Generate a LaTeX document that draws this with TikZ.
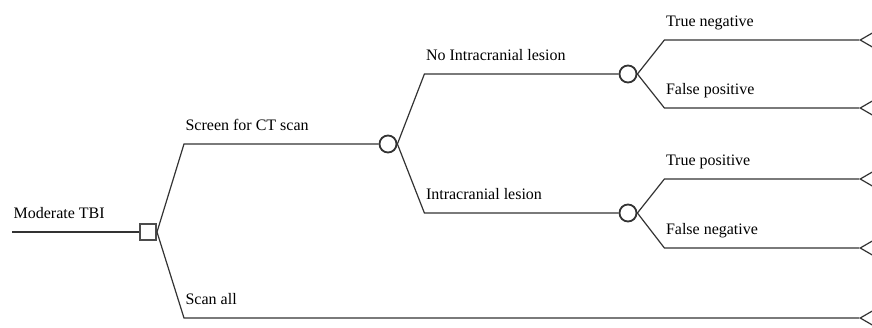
\documentclass[tikz,border=0pt]{standalone}
\usepackage{fontspec}
\setmainfont{Liberation Serif}
\usetikzlibrary{shapes.geometric}

\tikzset{
  edge/.style={draw=black!80, line width=1.2pt},
  lbl/.style={anchor=base west, inner sep=0pt, xshift=1pt, yshift=14pt,
    font=\fontsize{16}{18}\selectfont},
  decision/.style={rectangle, draw=black!70, line width=2pt,
    minimum size=16pt, inner sep=0pt, fill=white},
  chance/.style={circle, draw=black!80, line width=1.8pt,
    minimum size=17pt, inner sep=0pt, fill=white},
  terminal/.style={isosceles triangle, shape border rotate=180,
    isosceles triangle apex angle=60, draw=black!80, line width=1.2pt,
    minimum height=22pt, inner sep=0pt, anchor=apex}
}
\newcommand{\branch}[3]{\draw[edge] (#1.east) -- ([xshift=27pt]#1.east |- #2) node[lbl]{#3} -- (#2);}

\begin{document}
\begin{tikzpicture}[x=1pt,y=-1pt]
  \useasboundingbox (0,0) rectangle (872,327);

  \coordinate (root) at (12,232);
  \node[decision] (dec) at (148,232) {};
  \node[chance] (ctscan) at (388,144) {};
  \node[chance] (nolesion) at (628,74) {};
  \node[chance] (lesion) at (628,213) {};
  \node[terminal] (trueneg) at (859,40) {};
  \node[terminal] (falsepos) at (859,108) {};
  \node[terminal] (truepos) at (859,179) {};
  \node[terminal] (falseneg) at (859,248) {};
  \node[terminal] (scanall) at (859,318) {};

  \draw[edge] (root) node[lbl, xshift=0pt]{Moderate TBI} -- (dec);
  \branch{dec}{ctscan}{Screen for CT scan}
  \branch{dec}{scanall}{Scan all}
  \branch{ctscan}{nolesion}{No Intracranial lesion}
  \branch{ctscan}{lesion}{Intracranial lesion}
  \branch{nolesion}{trueneg}{True negative}
  \branch{nolesion}{falsepos}{False positive}
  \branch{lesion}{truepos}{True positive}
  \branch{lesion}{falseneg}{False negative}
\end{tikzpicture}
\end{document}
